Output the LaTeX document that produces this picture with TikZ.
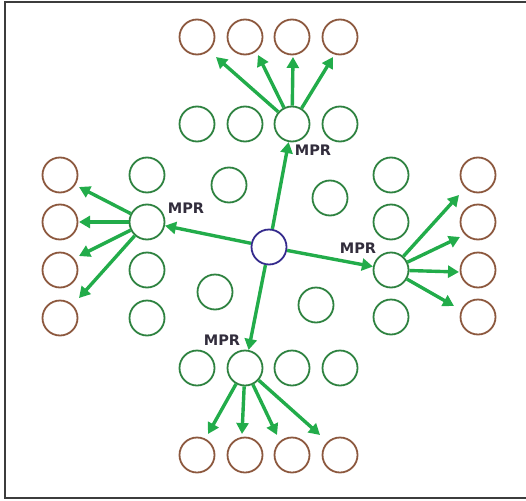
\documentclass[tikz,border=0pt]{standalone}
\usepackage{fontspec}
\setsansfont{DejaVu Sans}
\usetikzlibrary{arrows.meta}
\definecolor{cgreen}{RGB}{46,130,64}
\definecolor{agreen}{RGB}{34,172,74}
\definecolor{cbrown}{RGB}{140,88,62}
\definecolor{cblue}{RGB}{52,42,140}
\definecolor{tcol}{RGB}{50,45,60}
\definecolor{fcol}{RGB}{60,60,60}
\begin{document}
\begin{tikzpicture}[x=1pt,y=-1pt,
  gc/.style={circle,draw=cgreen,line width=1.8pt,minimum size=35pt,inner sep=0pt},
  bc/.style={circle,draw=cbrown,line width=1.8pt,minimum size=35pt,inner sep=0pt},
  cc/.style={circle,draw=cblue,line width=1.8pt,minimum size=35pt,inner sep=0pt},
  arr/.style={draw=agreen,line width=3.4pt,-{Triangle[length=11pt,width=12pt]}},
  lbl/.style={font=\sffamily\bfseries\fontsize{14.5}{14.5}\selectfont,text=tcol,inner sep=0pt}]
\useasboundingbox (0,0) rectangle (526,500);
\draw[fcol,line width=2pt] (526,2) -- (5,2) -- (5,498) -- (526,498);
% center
\node[cc] (c) at (269,247) {};
% top
\foreach \x [count=\i] in {197,245,292,340} {
  \node[bc] (tb\i) at (\x,37) {};
  \node[gc] (tg\i) at (\x,124) {};
}
% bottom
\foreach \x [count=\i] in {197,245,292,340} {
  \node[gc] (bg\i) at (\x,368) {};
  \node[bc] (bb\i) at (\x,455) {};
}
% left
\foreach \y [count=\i] in {175,222,270,318} {
  \node[bc] (lb\i) at (60,\y) {};
  \node[gc] (lg\i) at (147,\y) {};
}
% right
\foreach \y [count=\i] in {175,222,270,317} {
  \node[gc] (rg\i) at (391,\y) {};
  \node[bc] (rb\i) at (478,\y) {};
}
% scattered
\node[gc] (s1) at (229,185) {};
\node[gc] (s2) at (330,198) {};
\node[gc] (s3) at (215,292) {};
\node[gc] (s4) at (316,305) {};
% labels
\node[lbl] (lt) at (313,150) {MPR};
\node[lbl] (ll) at (186,208) {MPR};
\node[lbl] (lr) at (358,248) {MPR};
\node[lbl] (lbm) at (222,340) {MPR};
% center arrows
\draw[arr] (c) -- (tg3);
\draw[arr] (c) -- (lg2);
\draw[arr] (c) -- (rg3);
\draw[arr] (c) -- (bg2);
% arrow targets
\coordinate (ta1) at (216,57);
\coordinate (ta2) at (258,55);
\coordinate (ta3) at (293,57);
\coordinate (ta4) at (333,57);
\foreach \i in {1,...,4} \draw[arr] (tg3) -- (ta\i);
\coordinate (la1) at (79,187);
\coordinate (la2) at (79,222);
\coordinate (la3) at (79,256);
\coordinate (la4) at (79,298);
\foreach \i in {1,...,4} \draw[arr] (lg2) -- (la\i);
\coordinate (ra1) at (459,195);
\coordinate (ra2) at (460,237);
\coordinate (ra3) at (459,272);
\coordinate (ra4) at (454,306);
\foreach \i in {1,...,4} \draw[arr] (rg3) -- (ra\i);
\coordinate (ba1) at (208,434);
\coordinate (ba2) at (242,434);
\coordinate (ba3) at (277,435);
\coordinate (ba4) at (320,435);
\foreach \i in {1,...,4} \draw[arr] (bg2) -- (ba\i);
\end{tikzpicture}
\end{document}
